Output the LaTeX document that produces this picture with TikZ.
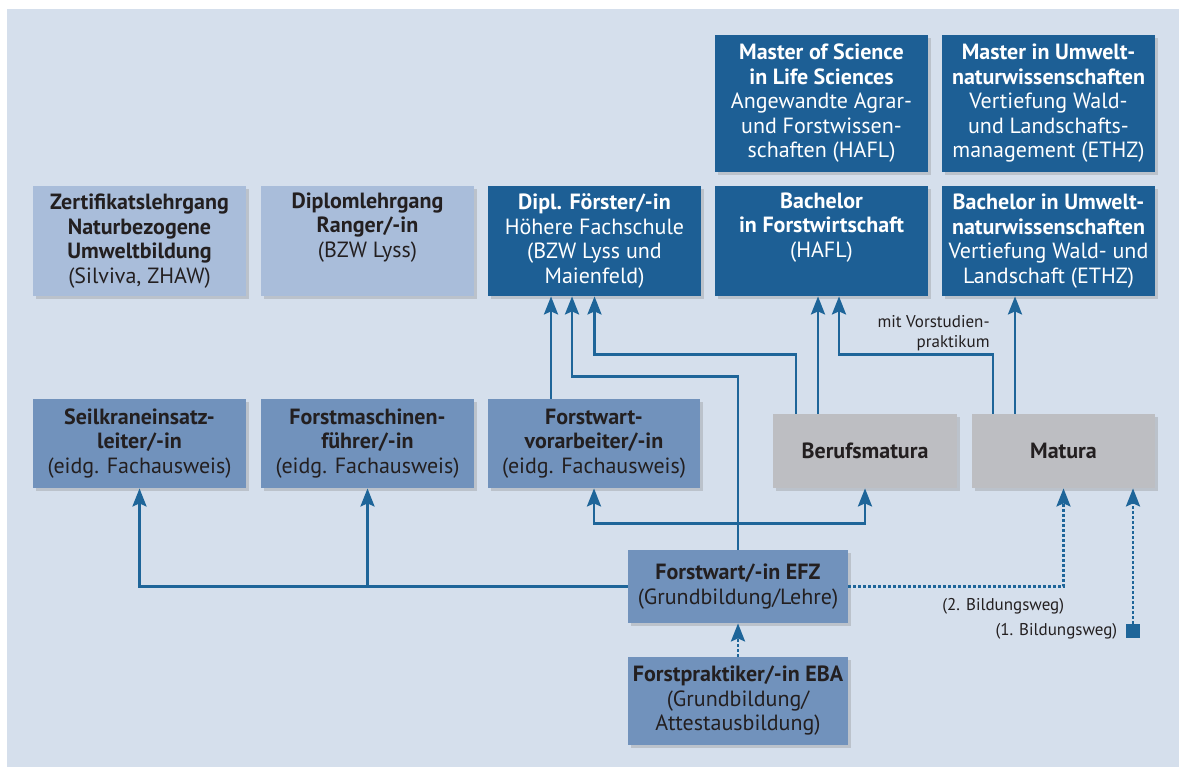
\documentclass[tikz,border=0pt]{standalone}
\usepackage{fontspec}
\setmainfont{PT Sans}
\usetikzlibrary{arrows.meta,positioning,shadows}

\definecolor{bgblue}{HTML}{D5DFEC}
\definecolor{darkblue}{HTML}{1D5F95}
\definecolor{midblue}{HTML}{7192BC}
\definecolor{lightblue}{HTML}{A9BDDA}
\definecolor{boxgray}{HTML}{BDBEC2}
\definecolor{linkblue}{HTML}{1E6599}
\definecolor{txtdark}{HTML}{231F20}

\tikzset{   box/.style={rectangle,align=center,inner sep=2pt,text=txtdark,font=\fontsize{11}{12.25}\selectfont,
                drop shadow={shadow xshift=1.5pt,shadow yshift=-1.5pt,opacity=0.3}},
            boxdark/.style={box,fill=darkblue,text=white},
            boxmid/.style={box,fill=midblue},
            boxlight/.style={box,fill=lightblue},
            boxgray/.style={box,fill=boxgray},
            arr/.style={draw=linkblue,line width=1.4pt,-{Stealth[length=9pt,width=7pt,inset=1.5pt]}},
            arrdot/.style={arr,dash pattern=on 1.5pt off 1pt},
            lbl/.style={font=\fontsize{8.5}{10}\selectfont,text=txtdark,align=right,inner sep=1pt},
            endsq/.style={fill=linkblue,minimum size=7pt,inner sep=0pt},
}

\begin{document}
\begin{tikzpicture}[x=0.5pt,y=-0.5pt]
    \useasboundingbox (0,0) rectangle (1184,767);
    \fill[bgblue] (7,9) rectangle (1179,767); % panel

    % master
    \node[boxdark,minimum width=106.5pt,minimum height=68.5pt] (msc) at (821.5,103.5)
        {\textbf{Master of Science}\\ \textbf{in Life Sciences}\\ Angewandte Agrar-\\ und Forstwissen-\\ schaften (HAFL)};
    \node[boxdark,minimum width=106.5pt,minimum height=68.5pt] (mum) at (1048.5,103.5)
        {\textbf{Master in Umwelt-}\\ \textbf{naturwissenschaften}\\ Vertiefung Wald-\\ und Landschafts-\\ management (ETHZ)};

    % higher education
    \node[boxlight,minimum width=106.5pt,minimum height=55pt] (zert) at (139.5,241)
        {\textbf{Zertifikatslehrgang}\\ \textbf{Naturbezogene}\\ \textbf{Umweltbildung}\\ (Silviva, ZHAW)};
    \node[boxlight,minimum width=106.5pt,minimum height=55pt] (ranger) at (367.5,241)
        {\textbf{Diplomlehrgang}\\ \textbf{Ranger/-in}\\ (BZW Lyss)\\ \strut};
    \node[boxdark,minimum width=106.5pt,minimum height=55pt] (foerster) at (594.5,241)
        {\textbf{Dipl. Förster/-in}\\ Höhere Fachschule\\ (BZW Lyss und\\ Maienfeld)};
    \node[boxdark,minimum width=106.5pt,minimum height=55pt] (bsc) at (821.5,241)
        {\textbf{Bachelor}\\ \textbf{in Forstwirtschaft}\\ (HAFL)\\ \strut};
    \node[boxdark,minimum width=106.5pt,minimum height=55pt] (bum) at (1048.5,241)
        {\textbf{Bachelor in Umwelt-}\\ \textbf{naturwissenschaften}\\ Vertiefung Wald- und\\ Landschaft (ETHZ)};

    % fachausweis, matura
    \node[boxmid,minimum width=106.5pt,minimum height=44.5pt] (seil) at (139.5,443.5)
        {\textbf{Seilkraneinsatz-}\\ \textbf{leiter/-in}\\ (eidg. Fachausweis)};
    \node[boxmid,minimum width=106.5pt,minimum height=44.5pt] (masch) at (367.5,443.5)
        {\textbf{Forstmaschinen-}\\ \textbf{führer/-in}\\ (eidg. Fachausweis)};
    \node[boxmid,minimum width=106pt,minimum height=44.5pt] (vor) at (594,443.5)
        {\textbf{Forstwart-}\\ \textbf{vorarbeiter/-in}\\ (eidg. Fachausweis)};
    \node[boxgray,minimum width=92pt,minimum height=37pt] (bm) at (865,451) {\textbf{Berufsmatura}};
    \node[boxgray,minimum width=91.5pt,minimum height=37pt] (mat) at (1063.5,451) {\textbf{Matura}};

    % grundbildung
    \node[boxmid,minimum width=110pt,minimum height=36.5pt] (efz) at (738,586.5)
        {\textbf{Forstwart/-in EFZ}\\ (Grundbildung/Lehre)};
    \node[boxmid,minimum width=110pt,minimum height=44pt] (epr) at (738,701)
        {\textbf{Forstpraktiker/-in EBA}\\ (Grundbildung/\\ Attestausbildung)};
    \node[endsq] (sq) at (1133,631) {};
    \node[lbl,left=3pt of sq] (weg1) {(1. Bildungsweg)};

    % connectors
    \draw[arr] (efz.west) -| (seil.south);
    \draw[arr] (efz.west -| masch.south) -- (masch.south);
    \draw[arr] (efz.north) -- ++(0,-173) -| ([xshift=-11.25pt]foerster.south);
    \coordinate (hub) at ([yshift=13pt]efz.north);
    \draw[arr] (hub) -| (vor.south);
    \draw[arr] (hub) -| (bm.south);
    \draw[arr] ([xshift=-21.5pt]vor.north) -- ([xshift=-21.5pt]vor.north |- foerster.south);
    \draw[arr] ([xshift=-34.5pt]bm.north) -- ++(0,-59) -| (foerster.south);
    \draw[arr] ([xshift=-23.5pt]bm.north) -- ([xshift=-23.5pt]bm.north |- bsc.south);
    \draw[arr] ([xshift=-35.25pt]mat.north) -- ++(0,-59) node[lbl,anchor=south east] {mit Vorstudien-\\ praktikum}
        -| ([xshift=8.75pt]bsc.south);
    \draw[arr] ([xshift=-24.25pt]mat.north) -- ([xshift=-24.25pt]mat.north |- bum.south);

    \draw[arrdot] (efz.east) -| node[lbl,pos=0.5,anchor=north east,xshift=2pt,yshift=-4pt] {(2. Bildungsweg)} (mat.south);
    \draw[arrdot] (sq.north) -- (sq.north |- mat.south);
    \draw[arrdot] (epr.north) -- (efz.south);
\end{tikzpicture}
\end{document}
